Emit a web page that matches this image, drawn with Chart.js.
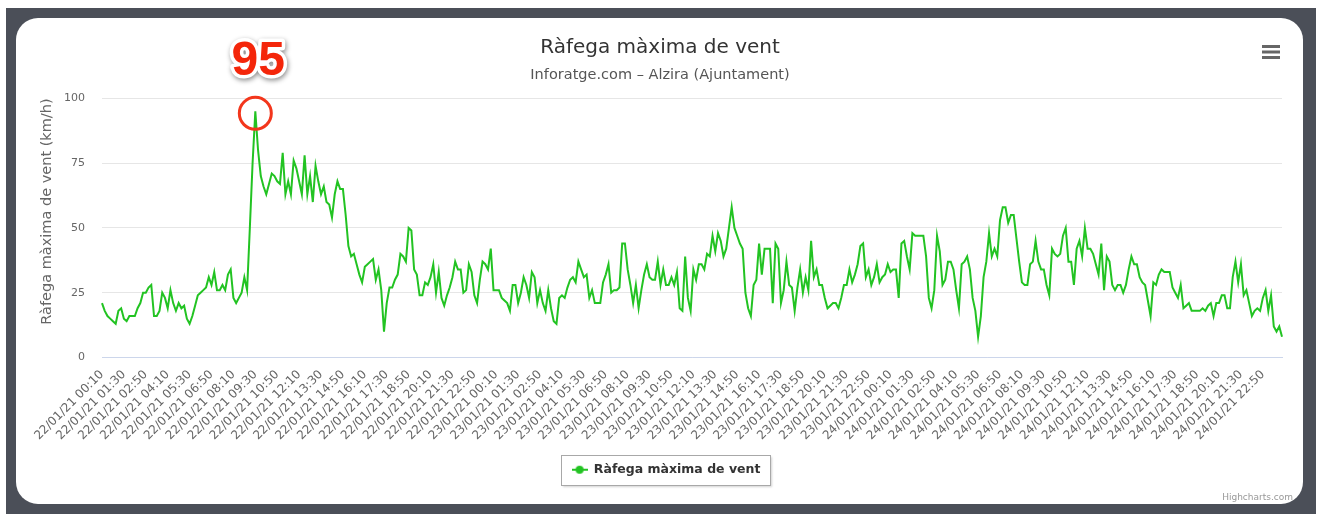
<!DOCTYPE html>
<html>
<head>
<meta charset="utf-8">
<title>Ràfega màxima de vent</title>
<script src="https://cdn.jsdelivr.net/npm/chart.js@4.4.1/dist/chart.umd.min.js"></script>
<style>
  html, body { margin: 0; padding: 0; background: #fff; }
  body { width: 1323px; height: 514px; position: relative; overflow: hidden; }
  #marc { position: absolute; left: 6px; top: 8px; width: 1310px; height: 506px; background: #4b4f58; }
  #targeta { position: absolute; left: 16px; top: 18px; width: 1287px; height: 486px; background: #fff; border-radius: 22px; }
  #grafic { position: absolute; left: 0; top: 0; }
</style>
</head>
<body>
<div id="marc"></div>
<div id="targeta"></div>
<canvas id="grafic" width="1323" height="514"></canvas>
<script>
// ================== DADES ==================
// ràfega màxima cada 10 minuts (km/h), llegida de la gràfica
const dia22 = [
  21,18,16,15,14,13,18,19,15,14, 16,16,16,19,21,25,25,27,28,16,
  16,18,25,23,19,26,21,18,21,19, 20,15,13,16,20,24,25,26,27,31,
  28,33,26,26,28,26,32,34,23,21, 23,25,31,26,50,75,95,80,70,66,
  63,67,71,70,68,67,79,63,68,63, 76,73,68,63,78,63,70,60,74,68,
  63,66,60,59,54,63,68,65,65,55, 43,39,40,36,32,29,35,36,37,38,
  30,34,26,10,21,27,27,30,32,40, 39,37,50,49,34,32,24,24,29,28,
  31,36,25,33,23,20,24,27,31,37, 34,34,25,26,36,33,24,21,30,37,
  36,34,42,26
];
const dia23 = [
  26,26,23,22,21,18,
  28,28,21,25,31,28,23,33,31,21, 26,21,18,26,19,14,13,23,24,23,
  27,30,31,29,37,34,31,32,23,26, 21,21,21,29,32,36,25,26,26,27,
  44,44,34,28,21,28,19,26,32,36, 31,30,30,37,28,34,28,28,31,28,
  33,19,18,39,23,18,34,30,36,36, 34,40,39,47,41,48,45,39,42,50,
  58,50,47,44,42,25,19,16,28,30, 44,32,42,42,42,21,44,42,21,26,
  37,28,27,18,27,34,25,31,26,45, 31,34,28,28,23,19,20,21,21,19,
  23,28,28,34,29,32,36,43,44,31, 34,28,31,36,29,31,32,36
];
const dia24 = [
  33,34,34,23,44,45,
  39,34,48,47,47,47,47,39,23,19, 26,47,41,28,30,37,37,34,26,19,
  36,37,39,34,23,18,8,16,31,37, 48,39,42,39,53,
  58,58,52,55,55,46,37,29,28,28, 36,37,45,37,34,34,28,24,42,40,
  39,40,47,50,37,37,28,42,45,39, 50,42,42,40,36,32,44,26,39,37,
  28,26,28,28,25,28,34,39,36,36, 31,29,28,22,16,
  29,28,32,34,33,33,33,27,25,23, 28,19,20,21,18,18,18,18,19,18,
  20,21,16,21,21,24,24,19,19,31, 37,29,36,24,26,21,16,18,19,18,
  23,26,18,24,12,10,12,8
];
const valors = dia22.concat(dia23, dia24);

const dies = ["22/01/21", "23/01/21", "24/01/21", "25/01/21"];
const marquesY = [0, 25, 50, 75, 100];
const cadaEtiqueta = 8; // una etiqueta cada 80 minuts

// etiquetes de temps: 00:10, 00:20, ... (registres de 10 minuts)
const etiquetes = valors.map((v, i) => {
  const min = (i + 1) * 10;
  const d = Math.floor(min / 1440);
  const h = Math.floor((min % 1440) / 60);
  const m = min % 60;
  return dies[d] + " " + String(h).padStart(2, "0") + ":" + String(m).padStart(2, "0");
});

const VERD = "#22c322";
const FONT = "'DejaVu Sans', 'Lucida Grande', Arial, sans-serif";
const DESPL_LLEGENDA = 6; // la llegenda està una mica a la dreta del centre

// ================== MARCADOR DE LA LLEGENDA ==================
const marcador = document.createElement("canvas");
marcador.width = 16;
marcador.height = 10;
(function () {
  const c = marcador.getContext("2d");
  c.strokeStyle = VERD;
  c.lineWidth = 2;
  c.beginPath();
  c.moveTo(0, 5);
  c.lineTo(16, 5);
  c.stroke();
  c.fillStyle = VERD;
  c.beginPath();
  c.arc(8, 5, 4, 0, Math.PI * 2);
  c.fill();
})();

// ================== EXTRES (màxim, menú, crèdits, caixa llegenda) ==================
const extres = {
  id: "extres",
  beforeDraw(chart) {
    const ctx = chart.ctx;
    const hb = chart.legend.legendHitBoxes[0];
    if (!hb) return;
    // moure la llegenda i dibuixar-ne la caixa amb ombra
    chart.legend.left += DESPL_LLEGENDA;
    chart.legend.right += DESPL_LLEGENDA;
    const x = Math.round(hb.left + DESPL_LLEGENDA - 11) + 0.5;
    const y = Math.round(hb.top - 9) + 0.5;
    const w = Math.round(hb.width + 20);
    const h = Math.round(hb.height + 17);
    ctx.save();
    ctx.shadowColor = "rgba(0,0,0,0.18)";
    ctx.shadowBlur = 2;
    ctx.shadowOffsetX = 1;
    ctx.shadowOffsetY = 1;
    ctx.fillStyle = "#fff";
    ctx.fillRect(x, y, w, h);
    ctx.shadowColor = "transparent";
    ctx.strokeStyle = "#a8a8a8";
    ctx.lineWidth = 1;
    ctx.strokeRect(x, y, w, h);
    ctx.restore();
  },
  afterDraw(chart) {
    const ctx = chart.ctx;

    // cercle i valor del màxim
    const meta = chart.getDatasetMeta(0);
    const iMax = valors.indexOf(Math.max(...valors));
    const p = meta.data[iMax];
    ctx.save();
    ctx.strokeStyle = "#f3361c";
    ctx.lineWidth = 3;
    ctx.beginPath();
    ctx.arc(p.x, p.y + 2, 16, 0, Math.PI * 2);
    ctx.stroke();

    ctx.font = "bold 48px 'Liberation Sans', Arial, sans-serif";
    ctx.textAlign = "center";
    ctx.textBaseline = "alphabetic";
    ctx.lineJoin = "round";
    ctx.shadowColor = "rgba(0,0,0,0.45)";
    ctx.shadowBlur = 5;
    ctx.shadowOffsetX = 1;
    ctx.shadowOffsetY = 2;
    ctx.strokeStyle = "#fff";
    ctx.lineWidth = 7;
    ctx.strokeText(String(valors[iMax]), p.x + 3, p.y - 36);
    ctx.shadowColor = "transparent";
    ctx.fillStyle = "#f4260a";
    ctx.fillText(String(valors[iMax]), p.x + 3, p.y - 36);
    ctx.restore();

    // menú (hamburguesa)
    ctx.save();
    ctx.strokeStyle = "#666";
    ctx.lineWidth = 3;
    [46.5, 52, 57.5].forEach(y => {
      ctx.beginPath();
      ctx.moveTo(1262, y);
      ctx.lineTo(1280, y);
      ctx.stroke();
    });
    ctx.restore();

    // crèdits
    ctx.save();
    ctx.font = "9px " + FONT;
    ctx.fillStyle = "#999";
    ctx.textAlign = "right";
    ctx.textBaseline = "alphabetic";
    ctx.fillText("Highcharts.com", 1293, 500);
    ctx.restore();
  }
};

// ================== GRÀFICA ==================
const ctx = document.getElementById("grafic").getContext("2d");
const grafica = new Chart(ctx, {
  type: "line",
  data: {
    labels: etiquetes,
    datasets: [{
      label: "Ràfega màxima de vent",
      data: valors,
      borderColor: VERD,
      backgroundColor: VERD,
      borderWidth: 2,
      pointRadius: 0,
      tension: 0,
      fill: false
    }]
  },
  options: {
    responsive: false,
    animation: false,
    events: [],
    layout: { padding: { left: 38, right: 41, top: 0, bottom: 28 } },
    scales: {
      x: {
        type: "category",
        grid: { display: false },
        border: { display: true, color: "#ccd6eb", width: 1 },
        ticks: {
          autoSkip: false,
          minRotation: 45,
          maxRotation: 45,
          padding: 2,
          color: "#666",
          font: { family: FONT, size: 12 },
          callback: (v, i) => (i % cadaEtiqueta === 0 ? etiquetes[i] : "")
        },
        afterFit: s => { s.height = 96; }
      },
      y: {
        min: 0,
        max: 100,
        grid: { color: "#e6e6e6", lineWidth: 1, drawTicks: false },
        border: { display: false },
        ticks: { padding: 17, color: "#666", font: { family: FONT, size: 11 } },
        afterBuildTicks: s => { s.ticks = marquesY.map(v => ({ value: v })); },
        title: {
          display: true,
          align: "end",
          text: "Ràfega màxima de vent (km/h)",
          color: "#666",
          font: { family: FONT, size: 14.5 },
          padding: { top: 1, bottom: 0 }
        },
        afterFit: s => { s.width = 64; }
      }
    },
    plugins: {
      title: {
        display: true,
        text: "Ràfega màxima de vent",
        color: "#333",
        font: { family: FONT, size: 20, weight: "normal" },
        padding: { top: 36, bottom: 0 }
      },
      subtitle: {
        display: true,
        text: "Inforatge.com – Alzira (Ajuntament)",
        color: "#555",
        font: { family: FONT, size: 14.5 },
        padding: { top: 7, bottom: 14 }
      },
      legend: {
        position: "bottom",
        labels: {
          usePointStyle: true,
          pointStyle: marcador,
          pointStyleWidth: 16,
          boxHeight: 10,
          padding: 10,
          color: "#333",
          font: { family: FONT, size: 12.5, weight: "bold" }
        }
      },
      tooltip: { enabled: false }
    }
  },
  plugins: [extres]
});
</script>
</body>
</html>
